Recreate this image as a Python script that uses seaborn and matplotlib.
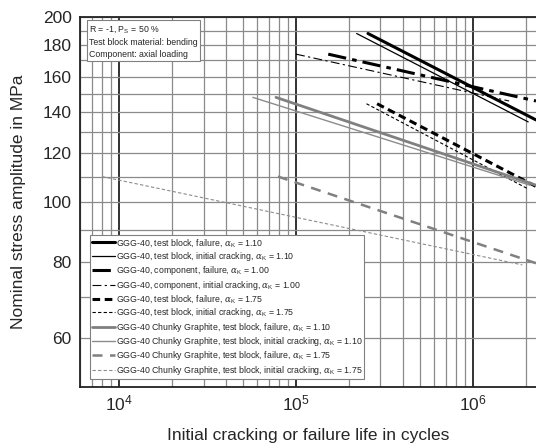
import numpy as np
import pandas as pd
import matplotlib
matplotlib.use("Agg")
import matplotlib.pyplot as plt
import seaborn as sns
from matplotlib.ticker import LogLocator, FixedLocator, NullFormatter, FixedFormatter, LogFormatterMathtext

# Dados (pontos inicial e final de cada linha de Wöhler)
labels = [
    r"GGG-40, test block, failure, $\alpha_\mathrm{K}$ = 1.10",
    r"GGG-40, test block, initial cracking, $\alpha_\mathrm{K}$ = 1.10",
    r"GGG-40, component, failure, $\alpha_\mathrm{K}$ = 1.00",
    r"GGG-40, component, initial cracking, $\alpha_\mathrm{K}$ = 1.00",
    r"GGG-40, test block, failure, $\alpha_\mathrm{K}$ = 1.75",
    r"GGG-40, test block, initial cracking, $\alpha_\mathrm{K}$ = 1.75",
    r"GGG-40 Chunky Graphite, test block, failure, $\alpha_\mathrm{K}$ = 1.10",
    r"GGG-40 Chunky Graphite, test block, initial cracking, $\alpha_\mathrm{K}$ = 1.10",
    r"GGG-40 Chunky Graphite, test block, failure, $\alpha_\mathrm{K}$ = 1.75",
    r"GGG-40 Chunky Graphite, test block, initial cracking, $\alpha_\mathrm{K}$ = 1.75",
]
ciclos = [
    [2.55e5, 2.27e6],
    [2.2e5, 2.05e6],
    [1.52e5, 2.27e6],
    [1.0e5, 1.6e6],
    [2.87e5, 2.27e6],
    [2.5e5, 2.05e6],
    [7.7e4, 2.27e6],
    [5.7e4, 2.1e6],
    [7.9e4, 2.27e6],
    [8.0e3, 1.9e6],
]
tensao = [
    [188, 136],
    [188, 135],
    [174, 146],
    [174, 146],
    [144.5, 106],
    [144.5, 105],
    [148, 106.5],
    [148, 106.5],
    [110, 79.5],
    [110, 79],
]
y_ticks = [60, 80, 100, 120, 140, 160, 180, 200]
y_minor = [50, 70, 90, 110, 130, 150, 170, 190]

# estilo de cada linha
estilos = [
    dict(color="black", lw=2.2, dashes=None),
    dict(color="black", lw=0.9, dashes=None),
    dict(color="black", lw=2.2, dashes=(6, 2, 1.5, 2)),
    dict(color="black", lw=0.8, dashes=(8, 3, 2, 3)),
    dict(color="black", lw=2.2, dashes=(2.5, 1.5)),
    dict(color="black", lw=0.8, dashes=(3, 2)),
    dict(color="#808080", lw=2.0, dashes=None),
    dict(color="#8c8c8c", lw=1.0, dashes=None),
    dict(color="#808080", lw=1.8, dashes=(4, 3)),
    dict(color="#8c8c8c", lw=0.8, dashes=(3, 2)),
]

sns.set_style("white")
plt.rcParams["font.family"] = ["Liberation Sans", "DejaVu Sans"]
plt.rcParams["mathtext.fontset"] = "custom"
plt.rcParams["mathtext.rm"] = "Liberation Sans"
plt.rcParams["mathtext.it"] = "DejaVu Serif:italic"

fig = plt.figure(figsize=(5.36, 4.46), dpi=100)
ax = fig.add_axes([0.149, 0.1323, 0.851, 0.8296])

for i in range(len(labels)):
    df = pd.DataFrame({"N": ciclos[i], "S": tensao[i]})
    st = estilos[i]
    sns.lineplot(data=df, x="N", y="S", ax=ax, color=st["color"],
                 lw=st["lw"], label=labels[i])
    l = ax.lines[-1]
    if st["dashes"] is not None:
        l.set_dashes(st["dashes"])
    l.set_zorder(3)

ax.set_xscale("log")
ax.set_yscale("log")
ax.set_xlim(6000, 2.27e6)
ax.set_ylim(50, 200)

ax.xaxis.set_major_locator(LogLocator(base=10))
ax.xaxis.set_major_formatter(LogFormatterMathtext())
ax.xaxis.set_minor_locator(LogLocator(base=10, subs=range(2, 10)))
ax.xaxis.set_minor_formatter(NullFormatter())
ax.yaxis.set_major_locator(FixedLocator(y_ticks))
ax.yaxis.set_major_formatter(FixedFormatter([str(v) for v in y_ticks]))
ax.yaxis.set_minor_locator(FixedLocator(y_minor))
ax.yaxis.set_minor_formatter(NullFormatter())

ax.grid(which="minor", axis="x", color="#8a8a8a", lw=0.9)
ax.grid(which="major", axis="x", color="#222222", lw=1.3)
ax.grid(which="both", axis="y", color="#8a8a8a", lw=0.9)
ax.set_axisbelow(True)

ax.tick_params(axis="both", which="both", length=0, labelsize=12.5, pad=6)
ax.tick_params(axis="x", pad=5)
for s in ["left", "bottom", "top"]:
    ax.spines[s].set_color("#222222")
    ax.spines[s].set_linewidth(1.3)
ax.spines["right"].set_visible(False)

ax.set_xlabel("Initial cracking or failure life in cycles", fontsize=12.5, labelpad=10)
ax.set_ylabel("Nominal stress amplitude in MPa", fontsize=12.5, labelpad=12)

leg = ax.legend(loc="lower left", bbox_to_anchor=(0.022, 0.022), borderaxespad=0,
                fontsize=6.3, frameon=True, fancybox=False, handlelength=2.6,
                handletextpad=0.1, labelspacing=0.15, borderpad=0.25)
leg.get_frame().set_edgecolor("#808080")
leg.get_frame().set_linewidth(0.8)
leg.get_frame().set_alpha(1)

ax.text(0.02, 0.982, "R = -1, P$_\\mathrm{S}$ = 50 %\nTest block material: bending\nComponent: axial loading",
        transform=ax.transAxes, fontsize=6.3, va="top", ha="left", linespacing=1.45,
        bbox=dict(boxstyle="square,pad=0.25", fc="white", ec="#808080", lw=0.8))

fig.savefig("out.png", dpi=100)
